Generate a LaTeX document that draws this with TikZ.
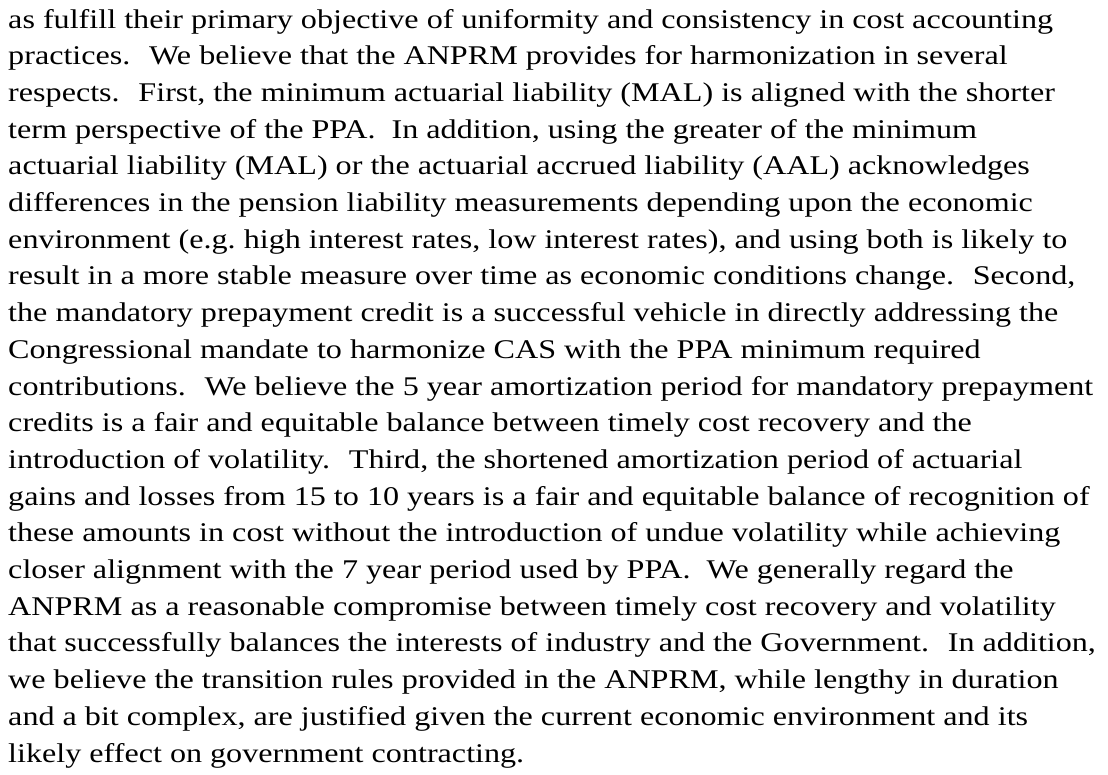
\documentclass[tikz,border=0pt]{standalone}
\usepackage{fontspec}
\setmainfont{Liberation Serif}
\usepackage{tikz}

\begin{document}
\begin{tikzpicture}[
				x=1pt, y=1pt,
				every node/.style={anchor=base west, inner sep=0pt},
				textline/.style={font=\fontsize{27}{36}\selectfont, xscale=1.19, transform shape}]

			\useasboundingbox (0,0) rectangle (1108,-774);

			\foreach \txt [count=\i] in {
					{as fulfill their primary objective of uniformity and consistency in cost accounting},
					{practices.~ We believe that the ANPRM provides for harmonization in several},
					{respects.~ First, the minimum actuarial liability (MAL) is aligned with the shorter},
					{term perspective of the PPA.~ In addition, using the greater of the minimum},
					{actuarial liability (MAL) or the actuarial accrued liability (AAL) acknowledges},
					{differences in the pension liability measurements depending upon the economic},
					{environment (e.g.\ high interest rates, low interest rates), and using both is likely to},
					{result in a more stable measure over time as economic conditions change.~ Second,},
					{the mandatory prepayment credit is a successful vehicle in directly addressing the},
					{Congressional mandate to harmonize CAS with the PPA minimum required},
					{contributions.~ We believe the 5 year amortization period for mandatory prepayment},
					{credits is a fair and equitable balance between timely cost recovery and the},
					{introduction of volatility.~ Third, the shortened amortization period of actuarial},
					{gains and losses from 15 to 10 years is a fair and equitable balance of recognition of},
					{these amounts in cost without the introduction of undue volatility while achieving},
					{closer alignment with the 7 year period used by PPA.~ We generally regard the},
					{ANPRM as a reasonable compromise between timely cost recovery and volatility},
					{that successfully balances the interests of industry and the Government.~ In addition,},
					{we believe the transition rules provided in the ANPRM, while lengthy in duration},
					{and a bit complex, are justified given the current economic environment and its},
					{likely effect on government contracting.}}
				\node[textline] (line\i) at (8, {-28 - 36.7*(\i-1)}) {\txt};

\end{tikzpicture}
\end{document}
